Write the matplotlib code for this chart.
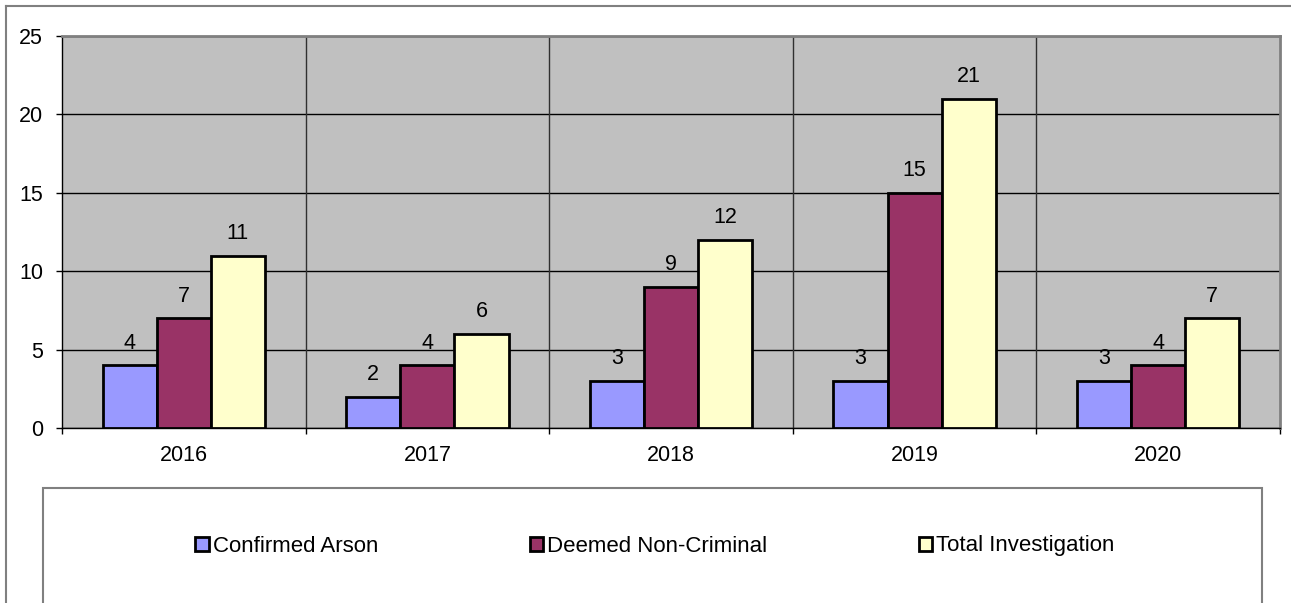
import matplotlib
matplotlib.use("Agg")
import matplotlib.pyplot as plt
from matplotlib.patches import Rectangle
from matplotlib.lines import Line2D
import numpy as np

years = ["2016", "2017", "2018", "2019", "2020"]
confirmed_arson = [4, 2, 3, 3, 3]
deemed_non_criminal = [7, 4, 9, 15, 4]
total_investigation = [11, 6, 12, 21, 7]
series_names = ["Confirmed Arson", "Deemed Non-Criminal", "Total Investigation"]
series_colors = ["#9999FF", "#993366", "#FFFFCC"]
y_ticks = [0, 5, 10, 15, 20, 25]

plt.rcParams['font.family'] = ['Liberation Sans', 'DejaVu Sans']
plt.rcParams['font.size'] = 15

W, H = 1291, 603
fig = plt.figure(figsize=(W / 100, H / 100), dpi=100)
fig.patch.set_facecolor("white")

def fx(px):
    return px / W

def fy(py):
    return 1 - py / H

ax = fig.add_axes([fx(62), fy(428), fx(1280) - fx(62), fy(36) - fy(428)])
ax.set_facecolor("#C0C0C0")

x = np.arange(len(years))
bw = 0.222
all_series = [confirmed_arson, deemed_non_criminal, total_investigation]
handles = []
for i, (vals, col, name) in enumerate(zip(all_series, series_colors, series_names)):
    bars = ax.bar(x + (i - 1) * bw, vals, width=bw, color=col, edgecolor="black",
                  linewidth=2, label=name, zorder=3)
    handles.append(bars)
    for xi, v in zip(x + (i - 1) * bw, vals):
        ax.annotate(str(v), (xi, v), xytext=(0, 12), textcoords="offset points",
                    ha="center", va="baseline", fontsize=15.5, color="black", zorder=4)

ax.set_xlim(-0.5, len(years) - 0.5)
ax.set_ylim(0, 25)
ax.set_yticks(y_ticks)
ax.set_xticks(x)
ax.set_xticklabels(years)
ax.set_xticks(np.arange(len(years) + 1) - 0.5, minor=True)

ax.tick_params(axis="y", direction="out", length=4, width=1, pad=9.5, labelsize=15.5)
ax.tick_params(axis="x", which="major", length=0, pad=12, labelsize=15.5)
ax.tick_params(axis="x", which="minor", direction="out", length=4, width=1)

ax.yaxis.grid(True, color="black", linewidth=1, zorder=1)
for b in np.arange(1, len(years)) - 0.5:
    ax.axvline(b, color="#303030", linewidth=1, zorder=1)
ax.set_axisbelow(True)

for s in ["top", "right"]:
    ax.spines[s].set_color("#808080")
    ax.spines[s].set_linewidth(2)
for s in ["left", "bottom"]:
    ax.spines[s].set_color("black")
    ax.spines[s].set_linewidth(1)

# legend frame (box extends past the bottom edge)
fig.add_artist(Rectangle((fx(43), -0.1), fx(1262) - fx(43), fy(488) + 0.1,
                         transform=fig.transFigure, fill=False, edgecolor="#808080",
                         linewidth=1.5))
fig.legend(handles=handles, labels=series_names, loc="center",
           bbox_to_anchor=(fx(655), fy(546)), ncol=3, frameon=False,
           fontsize=16, handlelength=0.6, handleheight=0.6, handletextpad=0.2,
           columnspacing=6.8)

# outer chart border (top and left visible)
fig.add_artist(Line2D([fx(6), 1.0], [fy(6), fy(6)], transform=fig.transFigure,
                      color="#808080", linewidth=1.5))
fig.add_artist(Line2D([fx(6), fx(6)], [fy(6), 0.0], transform=fig.transFigure,
                      color="#808080", linewidth=1.5))

fig.savefig("out.png", dpi=100)
